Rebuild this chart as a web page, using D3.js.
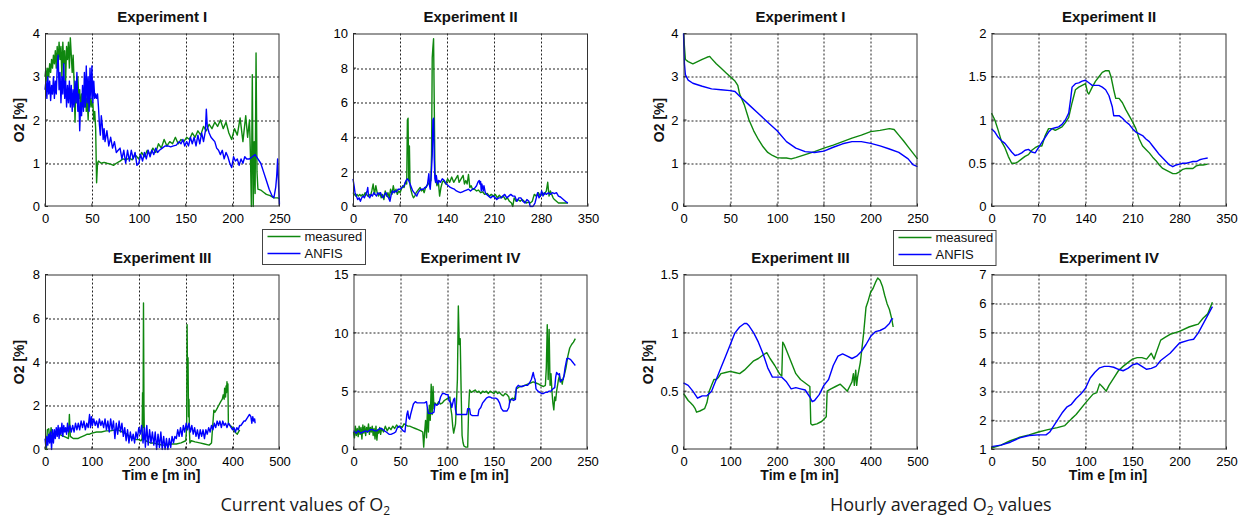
<!DOCTYPE html>
<html><head><meta charset="utf-8">
<script src="https://cdn.jsdelivr.net/npm/d3@7"></script>
<style>
html,body{margin:0;padding:0;background:#fff;}
svg{display:block;}
</style></head>
<body>
<svg id="chart" width="1246" height="518"></svg>
<script>
// ---------------- DATA ----------------
const ticks250 = [0, 50, 100, 150, 200, 250];
const ticks350 = [0, 70, 140, 210, 280, 350];
const ticks500 = [0, 100, 200, 300, 400, 500];
const yTicks4 = [0, 1, 2, 3, 4];
const yTicks10 = [0, 2, 4, 6, 8, 10];
const yTicks8 = [0, 2, 4, 6, 8];
const yTicks15 = [0, 5, 10, 15];
const yTicks2 = [0, 0.5, 1, 1.5, 2];
const yTicks15b = [0, 0.5, 1, 1.5];
const yTicks7 = [1, 2, 3, 4, 5, 6, 7];

const titles = ["Experiment I", "Experiment II", "Experiment III", "Experiment IV"];
const seriesNames = ["measured", "ANFIS"];
const captions = ["Current values of O", "Hourly averaged O"];

// Current values, Experiment I
const curI_measured = [[0,3.0],[1,3.2],[2,2.9],[3,3.2],[4,3.0],[5,3.3],[6,3.1],[7,3.4],[8,3.2],[9,3.5],[10,3.3],[11,3.6],[12,3.2],[13,3.7],[14,3.3],[15,3.8],[16,3.4],[17,3.7],[18,3.0],[19,3.8],[20,3.3],[21,3.6],[22,2.9],[23,3.7],[24,3.4],[25,3.8],[26,3.2],[27,3.9],[28,3.5],[29,3.1],[30,3.5],[31,2.9],[32,1.95],[33,2.8],[34,2.4],[35,3.0],[36,2.5],[37,2.7],[38,2.2],[39,2.6],[40,2.4],[41,2.7],[42,2.3],[43,2.8],[44,2.2],[45,2.5],[46,2.0],[47,2.6],[48,2.3],[49,2.5],[50,2.3],[51,2.4],[52,2.0],[53,2.2],[54,1.8],[55,0.55],[56,1.0],[57,1.05],[60,1.0],[63,1.02],[66,1.0],[70,0.98],[73,0.95],[76,1.0],[80,1.05],[83,1.1],[86,1.08],[90,1.12],[93,1.08],[96,1.2],[100,1.1],[103,1.25],[106,1.15],[109,1.3],[112,1.2],[115,1.35],[118,1.25],[121,1.45],[124,1.35],[127,1.55],[130,1.4],[133,1.5],[136,1.45],[139,1.6],[142,1.45],[145,1.55],[148,1.5],[151,1.6],[154,1.55],[157,1.7],[160,1.6],[163,1.75],[166,1.65],[169,1.85],[172,1.75],[175,1.9],[178,1.8],[181,1.95],[184,1.85],[187,2.0],[190,1.8],[193,1.95],[196,1.7],[199,1.55],[202,1.8],[205,1.65],[208,2.05],[211,1.5],[214,2.1],[216,1.6],[218,2.0],[219,1.2],[220,0.0],[221,3.05],[222,0.0],[223,1.5],[224,0.3],[225,3.55],[226,0.8],[227,0.4],[230,0.38],[233,0.33],[236,0.28],[240,0.25],[244,0.2],[248,0.2],[250,0.18]];
const curI_anfis = [[0,2.7],[1,2.9],[2,2.5],[3,3.0],[4,2.6],[5,2.9],[6,2.45],[7,2.8],[8,2.6],[9,3.0],[10,2.5],[11,2.9],[12,2.6],[13,3.2],[14,3.5],[15,2.7],[16,3.1],[17,2.4],[18,3.0],[19,2.6],[20,3.3],[21,2.5],[22,2.9],[23,2.3],[24,2.8],[25,2.4],[26,2.9],[27,2.3],[28,2.8],[29,2.2],[30,2.7],[31,2.3],[32,2.9],[33,2.4],[34,3.1],[35,2.2],[36,2.6],[37,1.75],[38,2.4],[39,2.1],[40,2.8],[41,2.2],[42,3.1],[43,2.3],[44,3.25],[45,2.4],[46,3.0],[47,2.2],[48,3.2],[49,2.5],[50,3.25],[51,2.4],[52,2.9],[53,2.5],[54,2.6],[55,2.5],[56,2.6],[57,2.3],[58,1.9],[59,1.65],[60,2.1],[61,1.9],[62,1.55],[63,1.8],[64,1.5],[66,1.75],[68,1.4],[70,1.6],[72,1.35],[74,1.5],[76,1.25],[78,1.3],[80,1.35],[82,1.1],[84,1.3],[86,1.0],[88,1.3],[90,1.05],[92,1.3],[94,1.1],[96,1.25],[98,0.95],[100,1.0],[102,1.2],[104,1.05],[106,1.25],[108,1.1],[110,1.3],[112,1.15],[114,1.3],[116,1.2],[118,1.35],[120,1.25],[122,1.3],[125,1.35],[128,1.4],[131,1.4],[134,1.38],[137,1.4],[140,1.42],[143,1.5],[145,1.45],[147,1.55],[149,1.4],[151,1.5],[153,1.4],[155,1.6],[157,1.45],[159,1.6],[161,1.4],[163,1.65],[165,1.45],[167,1.7],[169,1.5],[171,1.75],[172,2.25],[173,1.85],[175,1.7],[177,1.6],[179,1.55],[181,1.5],[183,1.35],[185,1.3],[187,1.2],[189,1.3],[191,1.1],[193,1.25],[195,1.15],[197,1.0],[199,0.9],[201,1.15],[203,1.05],[205,1.1],[207,0.95],[209,1.1],[211,1.0],[213,1.15],[215,1.1],[218,1.1],[221,1.15],[224,1.2],[227,1.1],[230,1.0],[233,0.8],[236,0.6],[239,0.4],[242,0.25],[244,0.2],[246,0.45],[247,0.7],[248,1.1],[249,0.5],[250,0.05]];

// Current values, Experiment II
const curII_measured = [[0,0.8],[2,0.7],[4,0.6],[6,0.7],[8,0.6],[10,0.7],[12,0.6],[14,0.7],[16,0.6],[18,0.8],[20,0.7],[22,0.6],[24,0.7],[26,0.6],[28,0.9],[30,1.3],[32,0.7],[34,1.2],[36,0.8],[38,0.6],[40,0.8],[42,0.5],[44,0.7],[46,0.4],[48,0.9],[50,0.6],[52,0.8],[54,0.5],[56,1.0],[58,0.7],[60,1.2],[62,0.8],[64,1.0],[66,0.7],[68,0.9],[70,0.8],[72,1.0],[74,1.2],[76,1.1],[78,1.4],[80,1.3],[81,5.0],[82,5.1],[83,1.5],[84,3.5],[85,1.2],[86,1.0],[88,0.7],[90,0.5],[92,0.6],[94,0.8],[96,0.9],[98,1.0],[100,1.1],[102,0.9],[104,1.0],[106,0.8],[108,1.1],[110,1.2],[112,1.3],[114,1.4],[116,1.5],[117,3.0],[118,8.6],[119,9.2],[120,9.7],[121,6.0],[122,2.0],[123,1.6],[125,1.2],[127,1.5],[129,0.6],[131,1.1],[133,1.4],[135,1.5],[138,1.3],[141,1.6],[144,1.4],[147,1.7],[150,1.4],[153,1.6],[156,1.8],[158,1.4],[161,1.6],[164,1.8],[166,1.3],[168,1.5],[170,1.3],[172,1.85],[174,1.1],[176,1.2],[178,1.0],[181,1.0],[184,0.9],[187,0.95],[190,0.8],[193,0.85],[196,0.7],[200,0.75],[203,0.6],[206,0.7],[209,0.6],[212,0.7],[215,0.5],[218,0.65],[221,0.5],[224,0.6],[227,0.4],[230,0.5],[233,0.3],[236,0.2],[238,0.0],[240,0.5],[243,0.3],[246,0.4],[249,0.3],[252,0.4],[255,0.3],[258,0.2],[261,0.25],[264,0.2],[267,0.3],[270,0.7],[273,0.6],[276,0.8],[279,0.6],[282,0.8],[285,0.7],[288,0.9],[290,1.4],[292,0.6],[294,0.9],[296,0.7],[298,0.5],[300,0.4],[303,0.3],[306,0.2],[310,0.2],[315,0.2],[320,0.2]];
const curII_anfis = [[0,1.6],[2,1.1],[3,0.8],[5,0.6],[7,0.4],[9,0.5],[11,0.3],[13,0.5],[15,0.6],[17,0.5],[19,0.7],[21,0.9],[22,1.1],[23,0.6],[25,0.5],[27,0.7],[29,0.6],[31,0.8],[33,0.7],[35,0.6],[37,0.8],[39,0.7],[41,0.8],[43,0.6],[45,0.5],[47,0.7],[49,0.8],[51,0.6],[53,0.5],[55,0.3],[57,0.7],[59,0.9],[61,0.8],[63,0.9],[65,0.85],[67,1.0],[70,1.0],[73,1.1],[76,1.2],[79,1.5],[81,1.6],[83,1.5],[85,1.3],[87,1.1],[89,0.9],[91,0.8],[93,0.7],[95,0.6],[97,0.8],[99,0.9],[101,1.0],[103,1.0],[105,1.0],[107,1.1],[109,1.1],[111,1.3],[113,1.9],[114,1.2],[115,1.0],[116,1.5],[117,2.2],[118,3.0],[119,5.0],[120,5.1],[121,2.8],[122,1.6],[123,1.4],[124,1.8],[126,1.3],[128,1.5],[130,1.4],[133,1.6],[136,1.5],[139,1.3],[142,1.2],[145,1.1],[148,1.05],[151,1.0],[154,0.9],[157,0.85],[160,0.8],[163,0.85],[166,0.9],[169,0.95],[172,1.0],[175,0.9],[178,1.0],[181,1.05],[184,1.2],[186,1.4],[188,1.5],[189,1.3],[190,1.45],[191,0.9],[192,1.3],[194,0.9],[195,1.2],[197,0.8],[199,0.7],[202,0.6],[205,0.5],[208,0.6],[211,0.55],[214,0.4],[217,0.5],[220,0.5],[223,0.6],[226,0.7],[229,0.5],[232,0.6],[235,0.7],[238,0.6],[241,0.6],[244,0.3],[247,0.5],[250,0.5],[253,0.3],[256,0.2],[259,0.4],[262,0.3],[264,0.0],[268,0.0],[271,0.2],[273,0.5],[275,0.8],[277,0.5],[279,0.6],[281,0.9],[283,0.6],[285,0.8],[288,0.7],[291,0.8],[294,0.7],[297,0.8],[300,0.75],[303,0.8],[306,0.6],[309,0.55],[312,0.45],[315,0.35],[318,0.25],[320,0.2]];

// Current values, Experiment III
const curIII_measured = [[0,0.1],[3,0.0],[5,0.9],[8,0.95],[10,0.4],[13,1.0],[16,0.6],[20,0.7],[25,0.75],[30,0.7],[35,0.65],[40,0.6],[45,0.55],[50,0.5],[52,1.6],[54,0.6],[60,0.5],[65,0.5],[70,0.5],[75,0.55],[80,0.6],[85,0.65],[90,0.7],[95,0.7],[100,0.75],[110,0.8],[120,0.8],[130,0.85],[140,0.85],[150,0.9],[155,0.9],[160,0.85],[165,0.8],[170,0.75],[175,0.7],[180,0.6],[185,0.55],[190,0.5],[195,0.45],[200,0.45],[205,0.4],[207,0.5],[208,2.6],[209,1.0],[210,6.7],[211,2.0],[212,0.5],[215,0.4],[220,0.35],[225,0.3],[230,0.3],[240,0.25],[250,0.2],[260,0.2],[270,0.25],[280,0.25],[290,0.3],[300,0.4],[302,1.0],[303,5.7],[304,3.0],[305,4.2],[306,1.5],[307,2.3],[308,0.8],[309,0.3],[312,0.4],[320,0.35],[330,0.3],[340,0.25],[350,0.2],[355,0.3],[357,0.9],[358,1.2],[360,1.8],[362,1.7],[365,1.8],[370,2.0],[375,2.2],[378,2.3],[380,2.5],[382,2.3],[383,2.8],[385,2.4],[386,2.9],[387,2.6],[388,3.1],[389,2.7],[390,3.0],[391,1.2],[395,1.1],[400,1.0],[405,0.8],[410,0.7],[415,0.9]];
const curIII_anfis = [[0,0.5],[2,0.1],[4,0.6],[6,0.2],[8,0.7],[10,0.3],[12,0.8],[14,0.0],[16,0.9],[18,0.3],[20,0.9],[22,0.5],[24,1.0],[26,0.6],[28,1.1],[30,0.5],[32,1.0],[34,0.7],[36,1.2],[38,0.6],[40,1.1],[42,0.8],[44,1.0],[46,0.7],[48,1.2],[50,0.8],[53,1.1],[56,0.8],[59,1.1],[62,0.8],[65,1.2],[68,0.9],[71,1.2],[74,0.9],[77,1.3],[80,1.0],[83,1.3],[86,0.9],[89,1.2],[92,1.0],[95,1.6],[97,1.0],[99,1.5],[101,1.1],[104,1.4],[107,1.1],[110,1.3],[113,1.0],[116,1.4],[119,1.1],[122,1.3],[125,1.0],[128,1.4],[131,0.9],[134,1.3],[137,0.8],[140,1.4],[143,0.9],[146,1.3],[149,0.5],[152,1.2],[155,0.7],[158,1.3],[161,0.8],[164,1.2],[167,0.6],[170,1.0],[173,0.4],[176,0.9],[179,0.3],[182,0.8],[185,0.4],[188,0.7],[191,0.3],[194,0.8],[197,0.5],[200,1.0],[203,0.7],[206,1.1],[209,0.3],[212,1.0],[214,0.1],[217,1.1],[220,0.2],[223,0.9],[226,0.3],[229,0.8],[232,0.2],[235,0.8],[238,0.0],[241,0.7],[244,0.1],[247,0.8],[250,0.0],[253,0.6],[256,0.0],[259,0.5],[262,0.0],[265,0.5],[268,0.1],[271,0.6],[274,0.3],[277,0.6],[280,0.5],[283,0.9],[286,0.6],[289,1.0],[292,0.6],[295,1.1],[298,0.8],[301,1.2],[304,0.9],[307,1.2],[310,0.8],[313,1.1],[316,0.7],[319,1.0],[322,0.6],[325,0.9],[328,0.5],[331,0.9],[334,0.6],[337,0.9],[340,0.5],[343,0.9],[346,0.7],[349,1.0],[352,0.8],[355,1.1],[358,0.9],[361,1.2],[364,1.0],[367,1.3],[370,1.1],[373,1.3],[376,1.0],[379,1.3],[382,1.1],[385,1.2],[388,1.0],[391,1.2],[394,1.1],[397,1.0],[400,0.9],[403,1.0],[406,0.8],[409,1.0],[412,0.9],[415,1.1],[418,1.1],[421,1.2],[424,1.3],[427,1.3],[430,1.4],[433,1.5],[436,1.6],[439,1.5],[441,1.2],[443,1.5],[445,1.3],[447,1.4],[448,1.2]];

// Current values, Experiment IV
const curIV_measured = [[0,1.5],[1,1.0],[2,2.0],[3,1.2],[4,1.8],[5,1.1],[6,2.0],[7,1.3],[8,1.9],[9,0.9],[10,2.1],[11,1.4],[12,2.0],[13,1.2],[14,1.9],[15,1.5],[16,2.2],[17,1.3],[18,1.9],[19,1.5],[20,2.0],[21,1.2],[22,1.8],[23,0.9],[24,2.0],[25,0.8],[26,1.7],[27,1.4],[28,1.9],[29,1.3],[30,1.8],[32,1.5],[34,2.0],[36,1.6],[38,1.9],[40,1.7],[42,2.0],[44,1.8],[46,2.1],[48,1.9],[50,2.0],[52,1.9],[54,2.2],[56,2.1],[58,2.0],[60,2.0],[63,1.9],[66,1.8],[69,1.7],[72,1.6],[74,1.5],[75,0.2],[76,1.5],[77,2.5],[78,1.0],[79,3.5],[80,1.5],[81,3.8],[82,2.5],[83,5.6],[84,3.0],[85,5.4],[86,3.5],[87,4.0],[89,3.8],[91,4.1],[93,3.9],[95,4.0],[97,4.2],[99,4.3],[101,4.4],[103,4.5],[104,3.5],[105,3.0],[106,2.0],[107,1.4],[108,1.8],[109,2.2],[110,4.0],[111,6.0],[112,12.3],[113,9.0],[114,9.5],[115,5.0],[116,1.2],[117,0.6],[118,0.3],[120,0.2],[122,0.2],[123,3.5],[124,5.1],[126,4.9],[128,5.0],[130,5.1],[132,4.9],[134,5.0],[136,4.8],[138,5.0],[140,4.9],[142,5.0],[144,4.8],[146,5.0],[148,4.9],[150,4.8],[152,5.0],[154,4.8],[156,4.9],[158,4.7],[160,4.6],[162,4.8],[164,4.7],[166,4.5],[167,4.0],[168,4.3],[170,4.4],[172,4.3],[174,5.2],[176,5.3],[178,5.4],[180,5.4],[183,5.5],[186,5.6],[189,5.7],[192,5.8],[195,5.7],[198,5.6],[200,5.5],[203,5.4],[205,5.5],[206,7.0],[207,10.7],[208,6.0],[209,10.3],[210,5.5],[211,6.5],[212,5.0],[213,4.0],[214,3.4],[215,4.5],[216,4.2],[217,5.0],[218,5.5],[219,6.0],[220,6.3],[221,5.8],[222,6.0],[223,5.6],[224,6.1],[225,6.3],[227,7.0],[229,8.0],[231,8.7],[233,9.0],[235,9.2],[237,9.5]];
const curIV_anfis = [[0,1.6],[3,1.4],[5,1.6],[8,1.4],[10,1.5],[13,1.6],[15,1.5],[18,1.7],[20,1.7],[23,1.6],[25,1.6],[28,1.8],[30,1.8],[33,1.6],[35,1.5],[38,1.3],[40,1.3],[43,1.4],[45,1.5],[47,1.9],[49,2.0],[51,1.8],[53,1.6],[55,1.5],[56,2.3],[57,3.0],[58,3.3],[59,2.7],[60,2.6],[61,3.0],[62,3.3],[64,3.9],[66,4.1],[68,4.0],[70,4.0],[72,4.0],[74,4.0],[76,4.0],[78,4.1],[79,3.5],[80,3.1],[82,3.1],[84,3.1],[86,3.2],[87,3.9],[89,3.8],[91,3.9],[93,4.5],[95,4.8],[97,4.8],[99,4.7],[101,4.7],[102,4.2],[104,4.0],[105,3.6],[107,4.3],[108,4.4],[109,3.4],[110,3.0],[113,3.0],[116,3.0],[119,3.0],[121,3.0],[122,3.5],[124,3.5],[125,3.0],[127,2.9],[130,2.9],[133,2.9],[134,3.4],[136,3.6],[138,4.0],[140,4.2],[142,4.4],[144,4.5],[146,4.5],[148,4.4],[150,4.4],[152,4.4],[154,4.3],[156,4.0],[158,3.5],[160,3.3],[162,3.3],[164,3.3],[166,3.6],[167,4.2],[169,4.3],[171,4.2],[173,4.3],[174,5.3],[176,5.5],[178,5.4],[180,5.4],[183,5.5],[186,5.5],[188,5.7],[190,6.0],[191,6.3],[192,6.6],[193,6.2],[194,6.0],[195,5.2],[197,5.0],[199,4.9],[201,4.8],[203,4.8],[205,4.9],[207,4.9],[209,5.0],[211,5.0],[213,5.2],[215,5.3],[216,6.2],[217,6.6],[219,6.4],[220,6.5],[221,5.8],[222,5.9],[224,6.0],[225,6.4],[226,7.0],[228,7.8],[230,7.8],[232,7.7],[234,7.5],[236,7.3],[237,7.2]];

// Hourly averaged, Experiment I
const avgI_measured = [[0,4.0],[1,3.7],[2,3.4],[5,3.35],[10,3.3],[15,3.35],[20,3.4],[25,3.45],[28,3.47],[30,3.42],[35,3.3],[40,3.2],[45,3.1],[50,3.0],[55,2.9],[58,2.8],[60,2.6],[65,2.35],[70,2.0],[75,1.75],[80,1.55],[85,1.38],[90,1.25],[95,1.18],[100,1.13],[105,1.12],[110,1.12],[115,1.1],[120,1.13],[130,1.2],[140,1.27],[150,1.35],[160,1.42],[170,1.5],[180,1.58],[190,1.65],[200,1.73],[210,1.76],[220,1.8],[225,1.78],[230,1.65],[235,1.52],[240,1.38],[245,1.24],[250,1.1]];
const avgI_anfis = [[0,4.0],[1,3.3],[2,3.05],[5,2.92],[10,2.85],[20,2.78],[30,2.72],[40,2.7],[50,2.68],[55,2.66],[60,2.55],[65,2.45],[70,2.35],[80,2.15],[90,1.95],[100,1.75],[110,1.5],[120,1.35],[130,1.27],[140,1.25],[150,1.28],[160,1.37],[170,1.45],[180,1.5],[190,1.5],[200,1.46],[210,1.4],[220,1.33],[230,1.25],[240,1.1],[245,0.97],[250,0.92]];

// Hourly averaged, Experiment II
const avgII_measured = [[0,1.08],[5,1.0],[10,0.88],[15,0.75],[20,0.68],[25,0.58],[30,0.5],[35,0.5],[40,0.52],[45,0.55],[50,0.58],[55,0.6],[60,0.65],[65,0.68],[70,0.7],[75,0.7],[80,0.82],[85,0.9],[90,0.9],[95,0.88],[100,0.9],[105,0.92],[110,0.97],[115,1.03],[120,1.2],[125,1.35],[130,1.38],[135,1.4],[140,1.42],[143,1.32],[145,1.3],[150,1.38],[155,1.45],[160,1.5],[165,1.55],[170,1.57],[175,1.57],[178,1.5],[182,1.35],[185,1.25],[190,1.25],[195,1.2],[200,1.12],[205,1.05],[210,0.98],[215,0.9],[220,0.78],[225,0.7],[230,0.66],[235,0.62],[240,0.57],[245,0.53],[250,0.48],[255,0.44],[260,0.42],[265,0.4],[270,0.38],[275,0.38],[280,0.4],[285,0.43],[290,0.44],[295,0.44],[300,0.44],[305,0.47],[310,0.48],[315,0.48],[322,0.49]];
const avgII_anfis = [[0,0.9],[5,0.86],[10,0.8],[15,0.76],[20,0.73],[25,0.68],[30,0.63],[35,0.59],[40,0.6],[45,0.62],[50,0.65],[55,0.66],[60,0.63],[65,0.62],[70,0.68],[75,0.74],[80,0.8],[85,0.86],[90,0.9],[95,0.91],[100,0.92],[105,0.95],[110,1.0],[115,1.08],[118,1.25],[120,1.38],[125,1.42],[130,1.43],[135,1.45],[140,1.46],[145,1.43],[150,1.4],[155,1.4],[160,1.4],[165,1.38],[170,1.35],[175,1.28],[180,1.15],[182,1.05],[185,1.05],[190,1.05],[195,1.02],[200,0.98],[205,0.95],[210,0.9],[215,0.86],[220,0.84],[225,0.82],[230,0.78],[235,0.75],[240,0.7],[245,0.65],[250,0.6],[255,0.56],[260,0.52],[265,0.48],[270,0.46],[275,0.48],[280,0.49],[285,0.5],[290,0.5],[295,0.51],[300,0.52],[305,0.52],[310,0.54],[315,0.55],[322,0.56]];

// Hourly averaged, Experiment III
const avgIII_measured = [[0,0.48],[5,0.45],[10,0.42],[15,0.4],[20,0.38],[25,0.35],[28,0.32],[35,0.33],[45,0.35],[50,0.4],[55,0.5],[60,0.55],[65,0.6],[70,0.6],[75,0.62],[80,0.65],[90,0.66],[100,0.67],[110,0.66],[120,0.65],[130,0.68],[140,0.72],[150,0.76],[160,0.78],[170,0.81],[178,0.83],[185,0.78],[195,0.72],[205,0.65],[210,0.63],[212,0.92],[215,0.9],[220,0.85],[230,0.75],[240,0.65],[250,0.6],[260,0.57],[270,0.54],[272,0.22],[275,0.21],[285,0.22],[295,0.24],[300,0.26],[305,0.28],[307,0.5],[315,0.52],[325,0.54],[335,0.56],[345,0.52],[350,0.5],[355,0.54],[360,0.58],[363,0.65],[365,0.55],[368,0.68],[370,0.55],[372,0.62],[378,0.75],[385,1.0],[390,1.22],[395,1.28],[400,1.35],[405,1.38],[410,1.43],[415,1.47],[420,1.45],[425,1.4],[430,1.32],[435,1.25],[440,1.2],[445,1.12],[448,1.05]];
const avgIII_anfis = [[0,0.57],[5,0.56],[10,0.55],[20,0.5],[30,0.44],[35,0.45],[40,0.46],[50,0.46],[60,0.5],[65,0.55],[70,0.6],[80,0.7],[90,0.8],[100,0.9],[110,1.0],[120,1.05],[130,1.08],[135,1.08],[140,1.06],[150,1.0],[160,0.92],[170,0.82],[180,0.7],[190,0.62],[200,0.62],[210,0.62],[220,0.58],[230,0.52],[240,0.53],[250,0.52],[260,0.51],[270,0.45],[275,0.41],[280,0.42],[290,0.47],[300,0.55],[310,0.6],[320,0.72],[330,0.8],[340,0.82],[350,0.8],[360,0.78],[370,0.8],[380,0.84],[390,0.9],[400,0.97],[410,1.01],[420,1.02],[430,1.04],[440,1.08],[445,1.12],[448,1.12]];

// Hourly averaged, Experiment IV
const avgIV_measured = [[0,1.05],[10,1.15],[20,1.3],[30,1.42],[40,1.5],[50,1.6],[60,1.68],[70,1.75],[78,1.82],[85,2.05],[90,2.2],[100,2.6],[108,2.9],[112,2.95],[115,3.25],[118,3.15],[122,3.0],[125,3.2],[130,3.45],[135,3.7],[140,3.85],[145,3.98],[150,4.1],[155,4.15],[160,4.15],[165,4.1],[170,4.3],[173,4.1],[175,4.3],[180,4.75],[185,4.85],[190,4.95],[200,5.05],[210,5.2],[215,5.25],[220,5.3],[225,5.5],[230,5.65],[235,6.05]];
const avgIV_anfis = [[0,1.1],[10,1.15],[20,1.25],[30,1.4],[40,1.48],[50,1.5],[58,1.5],[62,1.6],[65,1.75],[70,2.0],[75,2.25],[80,2.45],[85,2.55],[90,2.75],[95,2.9],[100,3.1],[105,3.45],[110,3.65],[115,3.8],[120,3.85],[125,3.85],[130,3.82],[135,3.75],[140,3.7],[145,3.78],[150,3.9],[155,3.95],[160,3.85],[165,3.75],[170,3.78],[175,3.85],[180,4.05],[190,4.3],[200,4.65],[210,4.75],[215,4.78],[220,5.0],[225,5.3],[230,5.6],[235,5.9]];

// ---------------- LAYOUT / STYLE ----------------
const GREEN = "#0f870f", BLUE = "#0000ff";
const FONT = "'Liberation Sans', Arial, sans-serif";

const panels = [
  {t:0, x:45,    y:33.5,  w:234.5, h:173, xd:[0,250], yd:[0,4],   xt:ticks250, yt:yTicks4,  m:curI_measured,   a:curI_anfis,   yl:21.5, xl:false},
  {t:1, x:353,   y:33.5,  w:235,   h:173, xd:[0,350], yd:[0,10],  xt:ticks350, yt:yTicks10, m:curII_measured,  a:curII_anfis,  yl:null, xl:false},
  {t:2, x:45,    y:274.5, w:234.5, h:175, xd:[0,500], yd:[0,8],   xt:ticks500, yt:yTicks8,  m:curIII_measured, a:curIII_anfis, yl:21.5, xl:true},
  {t:3, x:353.5, y:274.5, w:234,   h:175, xd:[0,250], yd:[0,15],  xt:ticks250, yt:yTicks15, m:curIV_measured,  a:curIV_anfis,  yl:null, xl:true},
  {t:0, x:683.5, y:33.5,  w:234,   h:173, xd:[0,250], yd:[0,4],   xt:ticks250, yt:yTicks4,  m:avgI_measured,   a:avgI_anfis,   yl:19.5, xl:false},
  {t:1, x:991.5, y:33.5,  w:235,   h:173, xd:[0,350], yd:[0,2],   xt:ticks350, yt:yTicks2,  m:avgII_measured,  a:avgII_anfis,  yl:null, xl:false},
  {t:2, x:683.5, y:274.5, w:234,   h:175, xd:[0,500], yd:[0,1.5], xt:ticks500, yt:yTicks15b,m:avgIII_measured, a:avgIII_anfis, yl:31,   xl:true},
  {t:3, x:991.5, y:274.5, w:235,   h:175, xd:[0,250], yd:[1,7],   xt:ticks250, yt:yTicks7,  m:avgIV_measured,  a:avgIV_anfis,  yl:null, xl:true}
];

const svg = d3.select("#chart");

panels.forEach(p => {
  const g = svg.append("g").attr("transform", `translate(${p.x},${p.y})`);
  const x = d3.scaleLinear().domain(p.xd).range([0, p.w]);
  const y = d3.scaleLinear().domain(p.yd).range([p.h, 0]);

  g.append("rect").attr("width", p.w).attr("height", p.h).attr("fill", "#fff");

  // grid
  g.selectAll(".gx").data(p.xt.slice(1, -1)).enter().append("line")
    .attr("x1", d => Math.round(x(d)) + 0.5).attr("x2", d => Math.round(x(d)) + 0.5)
    .attr("y1", 0).attr("y2", p.h)
    .attr("stroke", "#222").attr("stroke-width", 1).attr("stroke-dasharray", "2,2");
  g.selectAll(".gy").data(p.yt.slice(1, -1)).enter().append("line")
    .attr("y1", d => Math.round(y(d)) + 0.5).attr("y2", d => Math.round(y(d)) + 0.5)
    .attr("x1", 0).attr("x2", p.w)
    .attr("stroke", "#222").attr("stroke-width", 1).attr("stroke-dasharray", "2,2");

  // axes
  const ax = g.append("g").attr("transform", `translate(0,${p.h})`)
    .call(d3.axisBottom(x).tickValues(p.xt).tickSize(0).tickPadding(7).tickFormat(d => String(d)));
  const ay = g.append("g")
    .call(d3.axisLeft(y).tickValues(p.yt).tickSize(0).tickPadding(5).tickFormat(d => String(d)));
  [ax, ay].forEach(a => {
    a.select(".domain").remove();
    a.selectAll("text").attr("font-family", FONT).attr("font-size", 13).attr("fill", "#000");
  });

  // inner ticks
  g.selectAll(".tx").data(p.xt).enter().append("line")
    .attr("x1", d => x(d)).attr("x2", d => x(d)).attr("y1", p.h).attr("y2", p.h - 3)
    .attr("stroke", "#222");
  g.selectAll(".ty").data(p.yt).enter().append("line")
    .attr("y1", d => y(d)).attr("y2", d => y(d)).attr("x1", 0).attr("x2", 3)
    .attr("stroke", "#222");

  // lines
  const clipId = "clip" + Math.round(p.x) + "_" + Math.round(p.y);
  g.append("clipPath").attr("id", clipId).append("rect")
    .attr("x", -1).attr("y", -1).attr("width", p.w + 2).attr("height", p.h + 2);
  const line = d3.line().x(d => x(d[0])).y(d => y(d[1]));
  g.append("path").datum(p.m).attr("d", line).attr("fill", "none")
    .attr("stroke", GREEN).attr("stroke-width", 1.4).attr("stroke-linejoin", "round")
    .attr("clip-path", `url(#${clipId})`);
  g.append("path").datum(p.a).attr("d", line).attr("fill", "none")
    .attr("stroke", BLUE).attr("stroke-width", 1.4).attr("stroke-linejoin", "round")
    .attr("clip-path", `url(#${clipId})`);

  // frame
  g.append("rect").attr("x", 0.5).attr("y", 0.5).attr("width", p.w - 1).attr("height", p.h - 1)
    .attr("fill", "none").attr("stroke", "#333").attr("stroke-width", 1);

  // title
  g.append("text").attr("x", p.w / 2).attr("y", -11.5).attr("text-anchor", "middle")
    .attr("font-family", FONT).attr("font-weight", "bold").attr("font-size", 15)
    .attr("fill", "#111").text(titles[p.t]);

  // y label
  if (p.yl !== null) {
    g.append("text").attr("transform", `translate(${-p.yl},${p.h / 2}) rotate(-90)`)
      .attr("text-anchor", "middle").attr("font-family", FONT).attr("font-weight", "bold")
      .attr("font-size", 14).attr("fill", "#111").text("O2 [%]");
  }
  // x label
  if (p.xl) {
    g.append("text").attr("x", p.w / 2 - 1).attr("y", p.h + 30).attr("text-anchor", "middle")
      .attr("font-family", FONT).attr("font-weight", "bold").attr("font-size", 14)
      .attr("fill", "#111").attr("xml:space", "preserve").text("Tim e [m in]");
  }
});

// legends
const legends = [{x:262.5, y:229.5, w:103, h:35}, {x:893.5, y:230.5, w:102.5, h:35}];
legends.forEach(L => {
  const g = svg.append("g").attr("transform", `translate(${L.x},${L.y})`);
  g.append("rect").attr("width", L.w).attr("height", L.h).attr("fill", "#fff")
    .attr("stroke", "#444").attr("stroke-width", 1);
  [GREEN, BLUE].forEach((c, i) => {
    const yy = 7 + i * 17;
    g.append("line").attr("x1", 5).attr("x2", 38).attr("y1", yy).attr("y2", yy)
      .attr("stroke", c).attr("stroke-width", 1.4);
    g.append("text").attr("x", 42).attr("y", yy + 4.5).attr("font-family", FONT)
      .attr("font-size", 13).attr("fill", "#111").text(seriesNames[i]);
  });
});

// captions
const capPos = [{x:220.5, y:511}, {x:830, y:511}];
const capTail = ["", " values"];
capPos.forEach((c, i) => {
  const t = svg.append("text").attr("x", c.x).attr("y", c.y)
    .attr("font-family", "'Open Sans', 'Noto Sans', sans-serif").attr("font-size", 18)
    .attr("fill", "#1a1a1a").attr("xml:space", "preserve");
  t.append("tspan").text(captions[i]);
  t.append("tspan").attr("font-size", 12).attr("dy", 4).text("2");
  if (capTail[i]) t.append("tspan").attr("dy", -4).text(capTail[i]);
});
</script>
</body></html>
